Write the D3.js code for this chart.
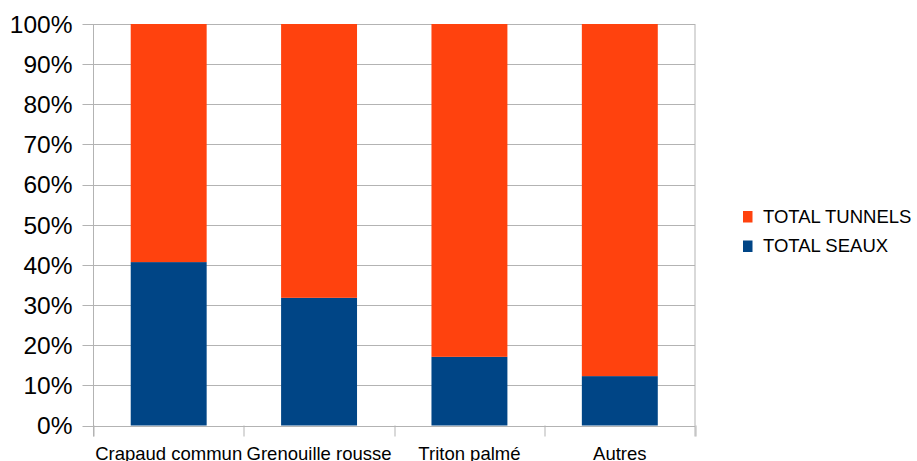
<!DOCTYPE html>
<html>
<head>
<meta charset="utf-8">
<script src="https://cdn.jsdelivr.net/npm/d3@7"></script>
<style>
  body { margin: 0; background: #fff; }
  svg { display: block; font-family: "Liberation Sans", Arial, sans-serif; }
</style>
</head>
<body>
<div id="chart"></div>
<script>
const categories = ['Crapaud commun', 'Grenouille rousse', 'Triton palmé', 'Autres']
const seaux = [40.7, 31.8, 17.1, 12.3]
const tunnels = seaux.map(v => 100 - v)
const yTicks = [0, 10, 20, 30, 40, 50, 60, 70, 80, 90, 100]
const seriesNames = ['TOTAL TUNNELS', 'TOTAL SEAUX']

const colors = { tunnels: '#ff420e', seaux: '#004586' }
const gridColor = '#b3b3b3'

const width = 917
const height = 461
const margin = { top: 24, right: 222, bottom: 35.5, left: 93.5 }
const innerW = width - margin.left - margin.right
const innerH = height - margin.top - margin.bottom

const svg = d3.select('#chart')
  .append('svg')
  .attr('width', width)
  .attr('height', height)

const g = svg.append('g')
  .attr('transform', 'translate(' + margin.left + ',' + margin.top + ')')

const x = d3.scaleBand().domain(categories).range([0, innerW]).paddingInner(0).paddingOuter(0)
const y = d3.scaleLinear().domain([0, 100]).range([innerH, 0])

// horizontal grid + left ticks
g.selectAll('.grid')
  .data(yTicks)
  .enter()
  .append('line')
  .attr('x1', -11)
  .attr('x2', innerW)
  .attr('y1', d => Math.round(y(d)) + 0.5)
  .attr('y2', d => Math.round(y(d)) + 0.5)
  .attr('stroke', gridColor)
  .attr('stroke-width', 1)

// y labels
g.selectAll('.ylab')
  .data(yTicks)
  .enter()
  .append('text')
  .attr('x', -21)
  .attr('y', d => y(d))
  .attr('dy', '0.36em')
  .attr('text-anchor', 'end')
  .attr('font-size', '24.5px')
  .attr('fill', '#000')
  .text(d => d + '%')

const data = categories.map((c, i) => ({ cat: c, seaux: seaux[i], tunnels: tunnels[i] }))
const barW = x.bandwidth() * 0.505
const off = (x.bandwidth() - barW) / 2

// stacked bars
g.selectAll('.seaux')
  .data(data)
  .enter()
  .append('rect')
  .attr('x', d => x(d.cat) + off)
  .attr('width', barW)
  .attr('y', d => y(d.seaux))
  .attr('height', d => y(0) - y(d.seaux))
  .attr('fill', colors.seaux)

g.selectAll('.tunnels')
  .data(data)
  .enter()
  .append('rect')
  .attr('x', d => x(d.cat) + off)
  .attr('width', barW)
  .attr('y', d => y(d.seaux + d.tunnels))
  .attr('height', d => y(d.seaux) - y(d.seaux + d.tunnels))
  .attr('fill', colors.tunnels)

// axis frame: left + right vertical lines
g.append('line')
  .attr('x1', 0).attr('x2', 0)
  .attr('y1', 0).attr('y2', innerH + 11)
  .attr('stroke', gridColor)
g.append('line')
  .attr('x1', innerW).attr('x2', innerW)
  .attr('y1', 0).attr('y2', innerH + 11)
  .attr('stroke', gridColor)

// category ticks below axis
const bounds = categories.map(c => x(c)).concat([innerW])
g.selectAll('.xtick')
  .data(bounds)
  .enter()
  .append('line')
  .attr('x1', d => Math.round(d) + 0.5)
  .attr('x2', d => Math.round(d) + 0.5)
  .attr('y1', innerH)
  .attr('y2', innerH + 11)
  .attr('stroke', gridColor)

g.selectAll('.xlab')
  .data(categories)
  .enter()
  .append('text')
  .attr('x', d => x(d) + x.bandwidth() / 2)
  .attr('y', innerH + 34)
  .attr('text-anchor', 'middle')
  .attr('font-size', '18.5px')
  .attr('fill', '#000')
  .text(d => d)

// legend
const legend = svg.append('g').attr('transform', 'translate(743,0)')
const legendColors = [colors.tunnels, colors.seaux]
seriesNames.forEach((name, i) => {
  const base = 222.5 + i * 29.5
  legend.append('rect')
    .attr('x', 0)
    .attr('y', base - 11.5)
    .attr('width', 9.5)
    .attr('height', 11.5)
    .attr('fill', legendColors[i])
  legend.append('text')
    .attr('x', 20)
    .attr('y', base)
    .attr('font-size', '18.5px')
    .attr('fill', '#000')
    .text(name)
})
</script>
</body>
</html>
